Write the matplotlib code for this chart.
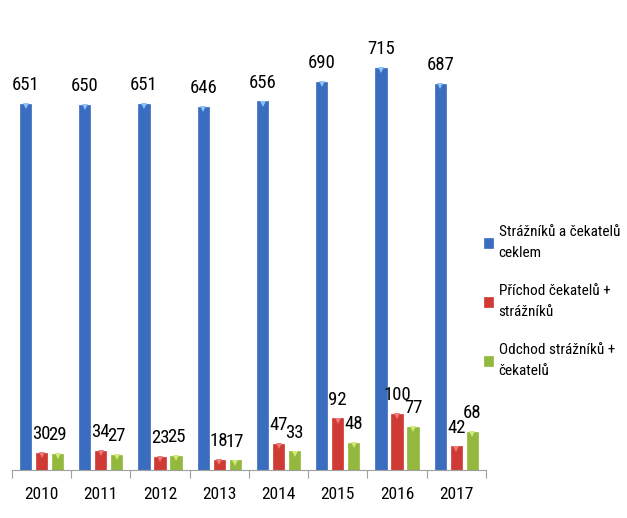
import matplotlib.pyplot as plt
import numpy as np

years = ['2010', '2011', '2012', '2013', '2014', '2015', '2016', '2017']
celkem = [651, 650, 651, 646, 656, 690, 715, 687]
prichod = [30, 34, 23, 18, 47, 92, 100, 42]
odchod = [29, 27, 25, 17, 33, 48, 77, 68]
series_names = ['Strážníků a čekatelů\nceklem', 'Příchod čekatelů +\nstrážníků', 'Odchod strážníků +\nčekatelů']
colors = ['#3A6DC0', '#CF3A35', '#93B83E']
tips = ['#8EC3F5', '#F07A78', '#D2EA7A']

plt.rcParams['font.family'] = ['Liberation Sans Narrow', 'Arial Narrow', 'Roboto Condensed',
                               'Archivo Narrow', 'DejaVu Sans']

fig = plt.figure(figsize=(6.27, 5.18), dpi=100)
ax = fig.add_axes([0.019, 0.0927, 0.756, 0.868])

x = np.arange(len(years))
offs = 0.27
w = 0.19
for i, (vals, name, c) in enumerate(zip([celkem, prichod, odchod], series_names, colors)):
    xs = x + (i - 1) * offs
    ax.bar(xs, vals, w, color=c, label=name, edgecolor=c, linewidth=0.5)
    # small light triangle at the top of each bar
    ax.plot(xs, np.array(vals) - 4, linestyle='none', marker='v', markersize=4.5,
            color=tips[i], markeredgewidth=0)
    for xi, v in zip(xs, vals):
        ax.annotate(str(v), (xi, v), xytext=(0, 7), textcoords='offset points',
                    ha='center', va='bottom', fontsize=13.5)

ax.set_xlim(-0.5, len(years) - 0.5)
ax.set_ylim(0, 800)
ax.set_yticks([])
for s in ['top', 'right', 'left']:
    ax.spines[s].set_visible(False)
ax.spines['bottom'].set_color('#A0A0A0')
ax.set_xticks(np.arange(len(years) + 1) - 0.5)
ax.set_xticklabels([])
ax.set_xticks(x, minor=True)
ax.set_xticklabels(years, minor=True, fontsize=12.5)
ax.tick_params(axis='x', which='major', length=6, color='#A0A0A0')
ax.tick_params(axis='x', which='minor', length=0, pad=12)

leg = fig.legend(loc='upper left', bbox_to_anchor=(0.772, 0.565), frameon=False, fontsize=11,
                 handlelength=0.6, handleheight=0.6, handletextpad=0.35, labelspacing=1.6,
                 borderaxespad=0, borderpad=0)
for t in leg.get_texts():
    t.set_linespacing(1.6)

fig.savefig('out.png', dpi=100)
